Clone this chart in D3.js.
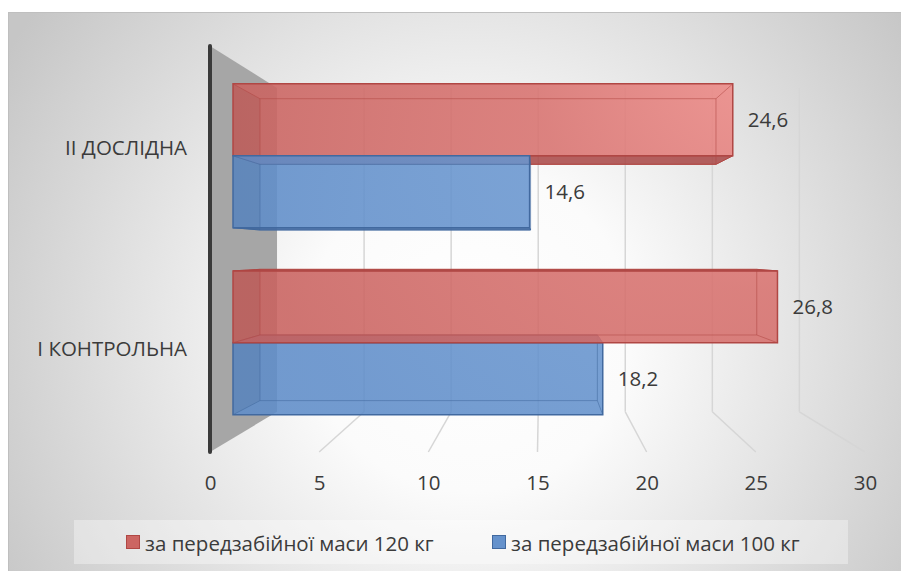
<!DOCTYPE html>
<html>
<head>
<meta charset="utf-8">
<script src="https://cdn.jsdelivr.net/npm/d3@7"></script>
<style>
  body { margin: 0; background: #fff; }
  svg text { font-family: "Open Sans", sans-serif; fill: #3b3b3b; }
</style>
</head>
<body>
<div id="chart"></div>
<script>
// data
const categories = ["II ДОСЛІДНА", "I КОНТРОЛЬНА"]
const seriesNames = ["за передзабійної маси 120 кг", "за передзабійної маси 100 кг"]
const values120 = [24.6, 26.8]
const values100 = [14.6, 18.2]
const xTicks = [0, 5, 10, 15, 20, 25, 30]

const width = 901, height = 571

const svg = d3.select("#chart").append("svg")
  .attr("width", width)
  .attr("height", height)
  .attr("viewBox", [0, 0, width, height])

const defs = svg.append("defs")

const bg = defs.append("radialGradient").attr("id", "bg")
  .attr("gradientUnits", "userSpaceOnUse")
  .attr("cx", 470).attr("cy", 330).attr("r", 540)
bg.append("stop").attr("offset", 0).attr("stop-color", "#ffffff")
bg.append("stop").attr("offset", 0.3).attr("stop-color", "#fbfbfb")
bg.append("stop").attr("offset", 1).attr("stop-color", "#c6c6c6")

// bar shading, lighter toward top right
function barGrad(id, c0, c1, c2) {
  const g = defs.append("radialGradient").attr("id", id)
    .attr("gradientUnits", "userSpaceOnUse")
    .attr("cx", 780).attr("cy", 40).attr("r", 560)
  g.append("stop").attr("offset", 0).attr("stop-color", c0)
  g.append("stop").attr("offset", 0.45).attr("stop-color", c1)
  g.append("stop").attr("offset", 1).attr("stop-color", c2)
}
barGrad("gRed", "#f4928f", "#d8726f", "#c9625f")
barGrad("gBlue", "#78a3da", "#6a97d0", "#5f8dc9")

const colors = [
  {fill: "url(#gRed)", flat: "#cc6562", dark: "#a84544", edge: "#b04744"},
  {fill: "url(#gBlue)", flat: "#6592cc", dark: "#466fa6", edge: "#41699f"}
]

// chart area
svg.append("rect")
  .attr("x", 8.5).attr("y", 12.5)
  .attr("width", width).attr("height", height)
  .attr("fill", "url(#bg)")
  .attr("stroke", "#bfbfbf")

// scales on the front plane, then a simple perspective toward vp
const x = d3.scaleLinear().domain([0, 30]).range([210, 865])
const yCat = d3.scaleBand().domain(categories).range([48, 450])
const ySer = d3.scaleBand().domain(seriesNames).range([0, yCat.bandwidth()]).paddingOuter(0.3)

const vp = {x: 541, y: 253.4}
const tBack = 0.2025, t1 = 0.0695, t2 = 0.151
const wallTop = 46, wallBottom = 452

function P(xv, Y, t) {
  return [xv + t * (vp.x - xv), Y + t * (vp.y - Y)]
}

const plot = svg.append("g")

// side wall
const wall = [P(x(0), wallTop, 0), P(x(0), wallTop, tBack), P(x(0), wallBottom, tBack), P(x(0), wallBottom, 0)]
plot.append("polygon")
  .attr("points", wall.map(p => p.join(",")).join(" "))
  .attr("fill", "#a6a6a6")

// back wall gridlines and floor lines
const grid = plot.append("g").attr("stroke", "#d6d6d6").attr("stroke-width", 1.5).attr("fill", "none")
grid.selectAll("line.v")
  .data(xTicks.slice(1))
  .enter().append("line")
  .attr("x1", d => P(x(d), wallTop, tBack)[0])
  .attr("y1", d => P(x(d), wallTop, tBack)[1])
  .attr("x2", d => P(x(d), wallBottom, tBack)[0])
  .attr("y2", d => P(x(d), wallBottom, tBack)[1])
grid.selectAll("line.f")
  .data(xTicks.slice(1))
  .enter().append("line")
  .attr("x1", d => P(x(d), wallBottom, tBack)[0])
  .attr("y1", d => P(x(d), wallBottom, tBack)[1])
  .attr("x2", d => x(d))
  .attr("y2", wallBottom)

plot.append("line")
  .attr("x1", x(0)).attr("x2", x(0))
  .attr("y1", wallTop).attr("y2", wallBottom)
  .attr("stroke", "#3a3a3a").attr("stroke-width", 4)
  .attr("stroke-linecap", "round")

// bars
const bars = []
categories.forEach((c, i) => {
  [values120[i], values100[i]].forEach((v, s) => {
    const Y0 = yCat(c) + ySer(seriesNames[s])
    const Y1 = Y0 + ySer.bandwidth()
    bars.push({cat: c, s: s, v: v, Y0: Y0, Y1: Y1, dist: Math.abs((Y0 + Y1) / 2 - vp.y)})
  })
})
bars.sort((a, b) => b.dist - a.dist)

const pts = arr => arr.map(p => p.join(",")).join(" ")

bars.forEach(b => {
  const col = colors[b.s]
  const g = plot.append("g")
  const x0 = x(0), x1 = x(b.v)
  const f = [P(x0, b.Y0, t1), P(x1, b.Y0, t1), P(x1, b.Y1, t1), P(x0, b.Y1, t1)]
  const k = [P(x0, b.Y0, t2), P(x1, b.Y0, t2), P(x1, b.Y1, t2), P(x0, b.Y1, t2)]

  // the face that shows outside the front face
  const above = (b.Y0 + b.Y1) / 2 < vp.y
  const cap = above ? [f[3], f[2], k[2], k[3]] : [f[0], f[1], k[1], k[0]]
  g.append("polygon").attr("points", pts(cap))
    .attr("fill", col.dark).attr("fill-opacity", 0.85)
    .attr("stroke", col.edge).attr("stroke-width", 1)

  g.append("polygon").attr("points", pts(f))
    .attr("fill", col.fill).attr("fill-opacity", 0.88)

  // left end face a bit darker
  g.append("polygon").attr("points", pts([f[0], k[0], k[3], f[3]]))
    .attr("fill", "#000").attr("fill-opacity", 0.05)

  // edges seen through
  const inner = g.append("g").attr("stroke", col.edge).attr("stroke-opacity", 0.55).attr("fill", "none")
  inner.append("polygon").attr("points", pts(k))
  f.forEach((p, j) => {
    inner.append("line")
      .attr("x1", p[0]).attr("y1", p[1])
      .attr("x2", k[j][0]).attr("y2", k[j][1])
  })
  g.append("polygon").attr("points", pts(f))
    .attr("fill", "none").attr("stroke", col.edge).attr("stroke-width", 1.5)

  g.append("text")
    .attr("x", f[1][0] + 15)
    .attr("y", (f[1][1] + f[2][1]) / 2)
    .attr("dy", "0.35em")
    .style("font-size", "20.5px")
    .text(d3.format(".1f")(b.v).replace(".", ","))
})

// x axis labels
const xAxis = svg.append("g")
  .attr("transform", `translate(0,${490 - 0.72 * 20.5})`)
  .call(d3.axisBottom(x).tickValues(xTicks).tickSize(0).tickPadding(0))
xAxis.select(".domain").remove()
xAxis.selectAll("text").style("font-size", "20.5px").attr("fill", null)

// category labels
const yAxis = svg.append("g")
  .attr("transform", "translate(187,0)")
  .call(d3.axisLeft(yCat).tickSize(0).tickPadding(0))
yAxis.select(".domain").remove()
yAxis.selectAll("text").style("font-size", "20.5px").attr("fill", null)

// legend
const legend = svg.append("g")
legend.append("rect")
  .attr("x", 74).attr("y", 520).attr("width", 774).attr("height", 44)
  .attr("fill", "#ffffff").attr("fill-opacity", 0.35)
const legendX = [126, 492]
const items = legend.selectAll("g.item")
  .data(seriesNames)
  .enter().append("g")
  .attr("transform", (d, i) => `translate(${legendX[i]},535)`)
items.append("rect")
  .attr("x", 0.5).attr("y", 0.5).attr("width", 13).attr("height", 13)
  .attr("fill", (d, i) => colors[i].flat)
  .attr("stroke", (d, i) => colors[i].edge)
items.append("text")
  .attr("x", 19).attr("y", 15.5)
  .style("font-size", "20.5px")
  .text(d => d)
</script>
</body>
</html>
